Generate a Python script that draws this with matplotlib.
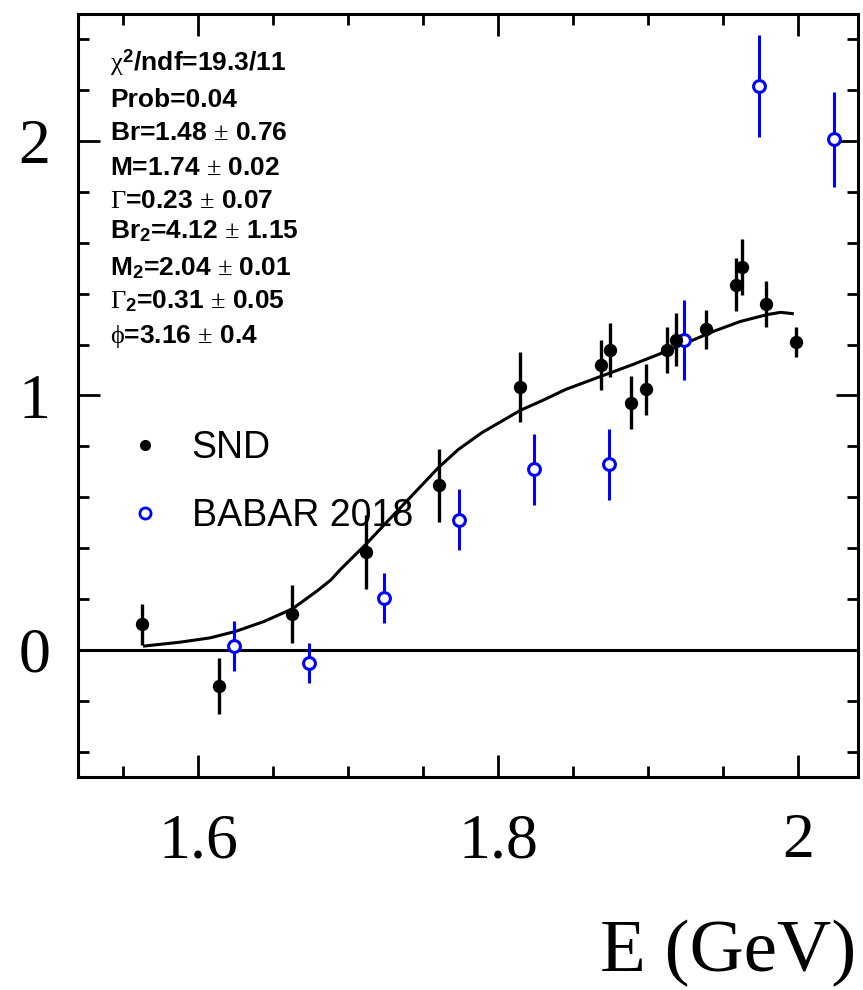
import numpy as np
import matplotlib
matplotlib.use("Agg")
import matplotlib.pyplot as plt
from matplotlib.lines import Line2D
from matplotlib.ticker import MultipleLocator

plt.rcParams['mathtext.fontset'] = 'custom'
plt.rcParams['mathtext.rm'] = 'Liberation Serif'
plt.rcParams['mathtext.it'] = 'Liberation Serif'
plt.rcParams['mathtext.bf'] = 'Liberation Sans:bold'

# SND points
snd_E = [1.563, 1.614, 1.6625, 1.712, 1.7606, 1.815, 1.869, 1.8747, 1.8886, 1.8984,
         1.9128, 1.919, 1.939, 1.9586, 1.9627, 1.9787, 1.9984]
snd_y = [0.10, -0.144, 0.141, 0.385, 0.647, 1.034, 1.12, 1.18, 0.971, 1.024,
         1.18, 1.22, 1.261, 1.435, 1.505, 1.361, 1.21]
snd_err = [0.08, 0.11, 0.115, 0.145, 0.144, 0.137, 0.10, 0.106, 0.104, 0.10,
           0.09, 0.103, 0.077, 0.104, 0.11, 0.09, 0.06]

# BABAR 2018 points
babar_E = [1.624, 1.6738, 1.7242, 1.774, 1.824, 1.8738, 1.924, 1.9738, 2.0237]
babar_y = [0.015, -0.051, 0.203, 0.511, 0.71, 0.729, 1.217, 2.216, 2.007]
babar_err = [0.098, 0.078, 0.098, 0.12, 0.14, 0.14, 0.158, 0.20, 0.188]

# fit curve
fit_E = [1.5644, 1.5879, 1.608, 1.6248, 1.6438, 1.6629, 1.6797, 1.6886, 1.6953,
         1.7121, 1.7266, 1.7445, 1.7602, 1.7736, 1.7893, 1.815, 1.8295, 1.8452,
         1.8698, 1.89, 1.9123, 1.928, 1.9436, 1.9615, 1.9794, 1.9884, 1.9962]
fit_y = [0.015, 0.030, 0.047, 0.072, 0.111, 0.161, 0.233, 0.275, 0.318,
         0.416, 0.507, 0.618, 0.716, 0.788, 0.854, 0.942, 0.980, 1.024,
         1.078, 1.122, 1.174, 1.213, 1.252, 1.291, 1.318, 1.327, 1.322]

stats_lines = [r"$\chi^{\mathbf{2}}$/ndf=19.3/11",
               "Prob=0.04",
               r"Br=1.48 $\pm$ 0.76",
               r"M=1.74 $\pm$ 0.02",
               r"$\Gamma$=0.23 $\pm$ 0.07",
               r"Br$_{\mathbf{2}}$=4.12 $\pm$ 1.15",
               r"M$_{\mathbf{2}}$=2.04 $\pm$ 0.01",
               r"$\Gamma_{\mathbf{2}}$=0.31 $\pm$ 0.05",
               r"$\phi$=3.16 $\pm$ 0.4"]
stats_base = [71, 107, 140, 175, 208, 238, 275, 308, 343]  # baselines in pixels

fig = plt.figure(figsize=(8.63, 9.9), dpi=100)
ax = fig.add_axes([78/863, 1-777/990, 780/863, 763/990])

ax.axhline(0, color='black', lw=2.2, zorder=1)
ax.plot(fit_E, fit_y, color='black', lw=2.2, zorder=2)
ax.errorbar(babar_E, babar_y, yerr=babar_err, fmt='o', ms=8.5, mfc='white', mec='#0000ff',
            mew=2.2, ecolor='#0000ff', elinewidth=2.2, capsize=0, zorder=3)
ax.errorbar(snd_E, snd_y, yerr=snd_err, fmt='o', ms=8.6, color='black',
            elinewidth=2.4, capsize=0, zorder=4)

ax.set_xlim(1.52, 2.04)
ax.set_ylim(-0.5, 2.5)
ax.xaxis.set_minor_locator(MultipleLocator(0.05))
ax.yaxis.set_minor_locator(MultipleLocator(0.2))
ax.set_xticks([1.6, 1.8, 2.0], ['1.6', '1.8', '2'])
ax.set_yticks([0, 1, 2], ['0', '1', '2'])
ax.tick_params(which='both', direction='in', top=True, right=True, width=2)
ax.tick_params(which='major', length=16)
ax.tick_params(which='minor', length=8)
ax.tick_params(axis='x', which='major', pad=26)
ax.tick_params(axis='y', which='major', pad=20)
for lab in ax.get_xticklabels() + ax.get_yticklabels():
    lab.set_fontfamily('Liberation Serif')
    lab.set_fontsize(46)
for s in ax.spines.values():
    s.set_linewidth(2.2)

ax.set_xlabel('E (GeV)', fontfamily='Liberation Serif', fontsize=54, ha='right', va='baseline')
ax.xaxis.set_label_coords((856-78)/780, (777-971)/763)

for txt, b in zip(stats_lines, stats_base):
    ax.text((110-78)/780, (777-b)/763, txt, transform=ax.transAxes, fontsize=19,
            fontfamily='Liberation Sans', fontweight='bold', ha='left', va='baseline')

handles = [Line2D([], [], ls='none', marker='o', ms=7, color='black'),
           Line2D([], [], ls='none', marker='o', ms=8, mfc='white', mec='#0000ff', mew=2)]
ax.legend(handles, ['SND', 'BABAR 2018'], loc='center left',
          bbox_to_anchor=((126-78)/780, (777-482)/763), frameon=False,
          prop={'family': 'Liberation Sans', 'size': 27}, borderpad=0, borderaxespad=0,
          handlelength=1.0, handletextpad=0.75, labelspacing=0.85)

fig.savefig('out.png', dpi=100)
